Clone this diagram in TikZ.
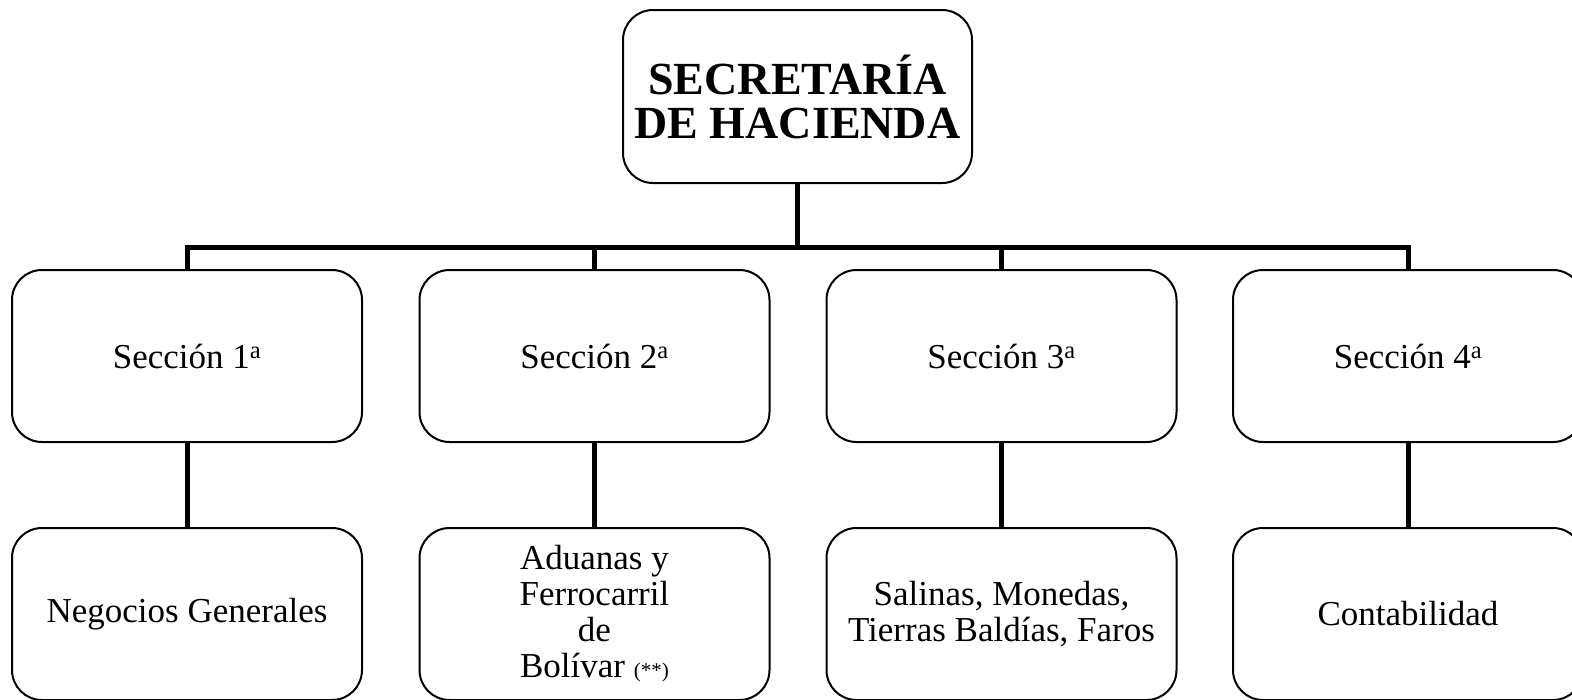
\documentclass[tikz,border=0pt]{standalone}
\usepackage{fontspec}
\setmainfont{Liberation Serif}
\usetikzlibrary{positioning}

\begin{document}
\begin{tikzpicture}[x=1pt, y=1pt,
	box/.style={draw, line width=2pt, rounded corners=30pt, align=center,
		minimum width=350pt, minimum height=172pt, inner sep=0pt,
		font=\fontsize{35}{36}\selectfont},
	head/.style={box, minimum width=349pt, minimum height=173pt,
		font=\fontsize{46}{44}\selectfont\bfseries},
	conn/.style={line width=5pt}]
	\useasboundingbox (0, 0) rectangle (1572, -699);
	\clip (0, 0) rectangle (1572, -699);

	% head of the office
	\node[head] (hacienda) at (797.5, -96.5) {SECRETARÍA\\DE HACIENDA};
	\coordinate (bus) at (797.5, -247);

	% the four sections
	\node[box] (sec1) at (187, -356) {Sección 1\textsuperscript{a}};
	\node[box] (sec2) at (594.5, -356) {Sección 2\textsuperscript{a}};
	\node[box] (sec3) at (1001.5, -356) {Sección 3\textsuperscript{a}};
	\node[box] (sec4) at (1408, -356) {Sección 4\textsuperscript{a}};

	% their branches
	\node[box] (negocios) at (187, -614) {Negocios Generales};
	\node[box] (aduanas) at (594.5, -614)
		{Aduanas y\\Ferrocarril\\de\\Bolívar {\fontsize{21}{22}\selectfont(**)}};
	\node[box] (salinas) at (1001.5, -614) {Salinas, Monedas,\\Tierras Baldías, Faros};
	\node[box] (contab) at (1408, -614) {Contabilidad};

	\draw[conn] (hacienda.south) -- (bus);
	\draw[conn] (sec1.north) |- (bus) -| (sec4.north);
	\draw[conn] (sec2.north) -- (sec2.north |- bus);
	\draw[conn] (sec3.north) -- (sec3.north |- bus);

	\draw[conn] (sec1.south) -- (negocios.north);
	\draw[conn] (sec2.south) -- (aduanas.north);
	\draw[conn] (sec3.south) -- (salinas.north);
	\draw[conn] (sec4.south) -- (contab.north);
\end{tikzpicture}
\end{document}
